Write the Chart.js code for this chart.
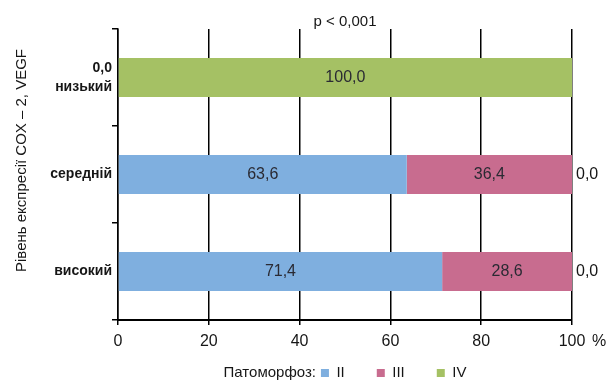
<!DOCTYPE html>
<html>
<head>
<meta charset="utf-8">
<script src="https://cdn.jsdelivr.net/npm/chart.js@4.4.1/dist/chart.umd.min.js"></script>
<style>
  html, body { margin: 0; padding: 0; background: #ffffff; }
  #wrap { width: 606px; height: 381px; }
</style>
</head>
<body>
<div id="wrap"><canvas id="c" width="606" height="381"></canvas></div>
<script>
// Expression level groups and the share (%) of each pathomorphosis grade
const categories = ['низький', 'середній', 'високий'];
const seriesNames = ['II', 'III', 'IV'];
const seriesII = [0.0, 63.6, 71.4];
const seriesIII = [0.0, 36.4, 28.6];
const seriesIV = [100.0, 0.0, 0.0];
const xTicks = [0, 20, 40, 60, 80, 100];

const pValueText = 'p < 0,001';
const yTitleText = 'Рівень експресії COX – 2, VEGF';
const legendPrefix = 'Патоморфоз:';
const unitText = '%';

const colors = ['#7fafdf', '#c86c8f', '#a5c164'];
const FONT = '"Liberation Sans", Arial, sans-serif';
const TEXT = '#161616';

const fmt = v => v.toFixed(1).replace('.', ',');

// Value labels inside the bars, and the empty share drawn past the bar end
const valueLabels = {
  id: 'valueLabels',
  afterDatasetsDraw(chart) {
    const ctx = chart.ctx;
    const last = chart.data.datasets.length - 1;
    ctx.save();
    ctx.textBaseline = 'middle';
    chart.data.datasets.forEach((ds, d) => {
      const meta = chart.getDatasetMeta(d);
      meta.data.forEach((el, i) => {
        const v = ds.data[i];
        if (v > 0) {
          ctx.font = '16px ' + FONT;
          ctx.fillStyle = '#2a2a33';
          ctx.textAlign = 'center';
          ctx.fillText(fmt(v), (el.x + el.base) / 2, el.y);
        } else if (d === last) {
          ctx.font = '16px ' + FONT;
          ctx.fillStyle = TEXT;
          ctx.textAlign = 'left';
          ctx.fillText(fmt(v), el.x + 4, el.y);
        }
      });
    });
    ctx.restore();
  }
};

// Axis caption, unit sign after the last x tick, and the caption in front of the legend
const extras = {
  id: 'extras',
  afterLayout(chart) {
    const lg = chart.legend;
    if (!lg) return;
    const ctx = chart.ctx;
    ctx.save();
    ctx.font = '15px ' + FONT;
    const w = ctx.measureText(legendPrefix).width;
    ctx.restore();
    const shift = (w + 5) / 2;
    lg.left += shift;
    lg.right += shift;
    // start the legend row higher, close under the tick labels
    lg.top -= 17.5;
  },
  afterDraw(chart) {
    const ctx = chart.ctx;
    const xs = chart.scales.x;
    const ys = chart.scales.y;
    ctx.save();
    ctx.fillStyle = TEXT;
    ctx.textBaseline = 'middle';

    ctx.font = '16px ' + FONT;
    ctx.textAlign = 'left';
    ctx.fillText(unitText, xs.getPixelForValue(100) + 20, xs.top + 5 + 7 + 9.6);

    const hb = chart.legend && chart.legend.legendHitBoxes[0];
    if (hb) {
      ctx.font = '15px ' + FONT;
      ctx.textAlign = 'right';
      ctx.fillText(legendPrefix, hb.left - 5, hb.top + hb.height / 2);
    }

    ctx.save();
    ctx.translate(22, (ys.top + ys.bottom) / 2 - 14);
    ctx.rotate(-Math.PI / 2);
    ctx.font = '15px ' + FONT;
    ctx.textAlign = 'center';
    ctx.fillText(yTitleText, 0, 0);
    ctx.restore();

    ctx.restore();
  }
};

const seriesData = [seriesII, seriesIII, seriesIV];

new Chart(document.getElementById('c'), {
  type: 'bar',
  data: {
    labels: categories,
    datasets: seriesNames.map((name, k) => ({
      label: name,
      data: seriesData[k],
      backgroundColor: colors[k],
      borderColor: colors[k],
      borderWidth: 0,
      categoryPercentage: 0.8,
      barPercentage: 0.5
    }))
  },
  options: {
    indexAxis: 'y',
    responsive: false,
    animation: false,
    devicePixelRatio: 1,
    layout: { padding: { left: 0, right: 34, top: 0, bottom: 0 } },
    scales: {
      x: {
        type: 'linear',
        stacked: true,
        min: 0,
        max: 100,
        afterBuildTicks: s => { s.ticks = xTicks.map(v => ({ value: v })); },
        afterFit: s => { s.height = 31; },
        ticks: {
          font: { family: FONT, size: 16 },
          color: TEXT,
          padding: 7,
          maxRotation: 0
        },
        grid: { color: '#000', lineWidth: 1.5, tickLength: 5, drawTicks: true },
        border: { color: '#000', width: 2 }
      },
      y: {
        type: 'category',
        stacked: true,
        offset: true,
        afterFit: s => { s.width = 118; },
        ticks: {
          font: { family: FONT, size: 14, weight: 'bold', lineHeight: 1.4 },
          color: TEXT,
          padding: 0,
          callback: function (value, index) {
            const lbl = this.getLabelForValue(value);
            return seriesII[index] === 0 ? [fmt(seriesII[index]), lbl] : lbl;
          }
        },
        grid: { offset: true, drawOnChartArea: false, color: '#000', lineWidth: 1.5, tickLength: 6 },
        border: { color: '#000', width: 1.5 },
        title: { display: false }
      }
    },
    plugins: {
      title: {
        display: true,
        text: pValueText,
        fullSize: false,
        color: TEXT,
        font: { family: FONT, size: 15, weight: 'normal', lineHeight: 14 / 15 },
        padding: { top: 15, bottom: 0 }
      },
      legend: {
        display: true,
        position: 'bottom',
        fullSize: false,
        maxHeight: 30,
        labels: {
          boxWidth: 8,
          boxHeight: 8,
          padding: 32,
          color: TEXT,
          font: { family: FONT, size: 15 }
        }
      },
      tooltip: { enabled: false }
    }
  },
  plugins: [valueLabels, extras]
});
</script>
</body>
</html>
